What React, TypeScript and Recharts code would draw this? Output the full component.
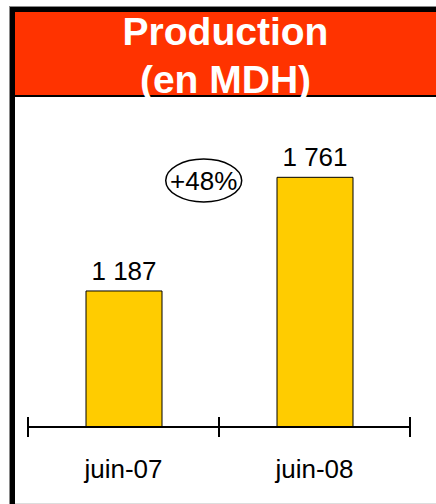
import React from 'react';
import { BarChart, Bar, XAxis, YAxis, LabelList, ReferenceDot } from 'recharts';

const categories = ['juin-07', 'juin-08'];
const production = [1187, 1761];
const growthLabel = '+48%';
const titleLines = ['Production', '(en MDH)'];
const yDomain = [500, 2000];
const growthPos = { x: 0.46, y: 1745 };

const data = categories.map((c, i) => ({ period: c, value: production[i] }));

const fmt = (v: any) => String(v).replace(/\B(?=(\d{3})+(?!\d))/g, ' ');

const FONT = '"Liberation Sans", Arial, sans-serif';

const CategoryTick = (props: any) => {
  const { x, y, payload } = props;
  const half = payload && payload.offset ? payload.offset : 0;
  return (
    <g>
      <line x1={x - half} x2={x - half} y1={y - 10} y2={y + 10} stroke="#000" strokeWidth={2} />
      <line x1={x + half} x2={x + half} y1={y - 10} y2={y + 10} stroke="#000" strokeWidth={2} />
      <text x={x} y={y + 51} textAnchor="middle" fontSize={26} fontFamily={FONT} fill="#000">
        {payload.value}
      </text>
    </g>
  );
};

const GrowthBubble = (props: any) => {
  const { cx, cy } = props;
  return (
    <g>
      <ellipse cx={cx} cy={cy} rx={38} ry={21.5} fill="none" stroke="#000" strokeWidth={1.5} />
      <text x={cx} y={cy + 9.5} textAnchor="middle" fontSize={26} fontFamily={FONT} fill="#000">
        {growthLabel}
      </text>
    </g>
  );
};

export default function App() {
  return (
    <div style={{ position: 'absolute', left: 0, top: 0, width: 436, height: 504, background: '#fff' }}>
      <svg width={436} height={504} style={{ position: 'absolute', left: 0, top: 0 }}>
        <rect x={9} y={6} width={427} height={1} fill="#8a8a8a" />
        <rect x={9} y={6} width={1} height={498} fill="#8a8a8a" />
        <rect x={10} y={7} width={426} height={5} fill="#000" />
        <rect x={10} y={7} width={5} height={497} fill="#000" />
        <rect x={15} y={12} width={421} height={83} fill="#FF3300" />
        <rect x={15} y={95} width={421} height={2} fill="#000" />
        <rect x={15} y={503} width={421} height={1} fill="#dddddd" />
        {titleLines.map((t, i) => (
          <text
            key={t}
            x={225.5}
            y={45 + i * 48}
            textAnchor="middle"
            fontSize={39}
            fontWeight="bold"
            fontFamily={FONT}
            fill="#fff"
          >
            {t}
          </text>
        ))}
      </svg>
      <div style={{ position: 'absolute', left: 0, top: 0 }}>
        <BarChart
          width={436}
          height={504}
          data={data}
          margin={{ top: 130, left: 28, right: 26, bottom: 17 }}
        >
          <XAxis
            xAxisId="cat"
            dataKey="period"
            type="category"
            axisLine={{ stroke: '#000', strokeWidth: 2 }}
            tickLine={false}
            tickSize={0}
            tickMargin={0}
            height={60}
            interval={0}
            tick={<CategoryTick />}
          />
          <XAxis
            xAxisId="pos"
            type="number"
            domain={[0, 1]}
            allowDataOverflow
            hide
          />
          <YAxis hide domain={yDomain} allowDataOverflow />
          <Bar
            xAxisId="cat"
            dataKey="value"
            fill="#FFCC00"
            stroke="#000"
            strokeWidth={1}
            barSize={76}
            isAnimationActive={false}
          >
            <LabelList
              dataKey="value"
              position="top"
              offset={11}
              formatter={fmt}
              fill="#000"
              fontSize={26}
              fontFamily={FONT}
            />
          </Bar>
          <ReferenceDot
            xAxisId="pos"
            x={growthPos.x}
            y={growthPos.y}
            shape={<GrowthBubble />}
            ifOverflow="visible"
          />
        </BarChart>
      </div>
    </div>
  );
}
